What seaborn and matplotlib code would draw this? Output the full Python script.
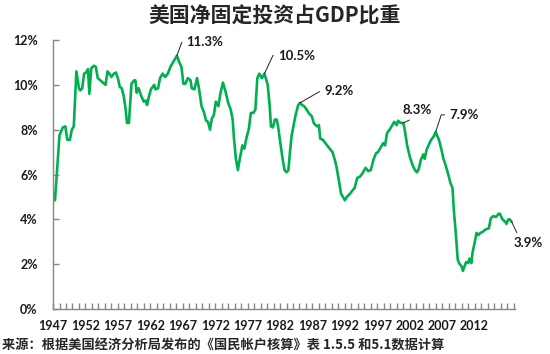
import matplotlib
matplotlib.use("Agg")
import matplotlib.pyplot as plt
import seaborn as sns
import numpy as np
import pandas as pd
from matplotlib.ticker import FixedLocator, MultipleLocator


# ==========================================
# DATA
# ==========================================

years = [
    1947.05, 1947.3, 1948.0, 1948.5, 1948.9, 1949.2, 1949.6, 1949.9, 1950.2, 1950.6,
    1951.0, 1951.2, 1951.5, 1951.8, 1952.1, 1952.4, 1952.6, 1952.9, 1953.3, 1953.6,
    1953.9, 1954.3, 1954.7, 1955.1, 1955.4, 1955.7, 1956.0, 1956.4, 1956.7, 1957.0,
    1957.3, 1957.6, 1957.9, 1958.2, 1958.4, 1958.7, 1959.1, 1959.5, 1959.7, 1959.9,
    1960.2, 1960.6, 1961.0, 1961.3, 1961.5, 1961.8, 1962.1, 1962.6, 1962.8, 1963.2,
    1963.5, 1963.9, 1964.3, 1964.7, 1965.1, 1965.6, 1966.1, 1966.4, 1966.8, 1967.1,
    1967.4, 1967.8, 1968.2, 1968.4, 1968.8, 1969.2, 1969.5, 1969.9, 1970.3, 1970.6,
    1970.9, 1971.2, 1971.5, 1971.8, 1972.1, 1972.5, 1972.8, 1973.2, 1973.6, 1974.0,
    1974.4, 1974.7, 1974.9, 1975.2, 1975.5, 1975.8, 1976.2, 1976.5, 1976.8, 1977.2,
    1977.5, 1977.9, 1978.2, 1978.5, 1978.8, 1979.2, 1979.6, 1979.9, 1980.1, 1980.4,
    1980.6, 1980.9, 1981.2, 1981.5, 1981.7, 1982.1, 1982.4, 1982.7, 1983.0, 1983.3,
    1983.5, 1983.8, 1984.1, 1984.4, 1984.8, 1985.1, 1985.4, 1985.7, 1986.1, 1986.4,
    1986.9, 1987.2, 1987.5, 1987.7, 1988.0, 1988.2, 1988.6, 1989.0, 1989.4, 1989.8,
    1990.1, 1990.5, 1990.7, 1991.1, 1991.4, 1991.7, 1992.0, 1992.3, 1992.8, 1993.2,
    1993.5, 1993.9, 1994.3, 1994.7, 1995.2, 1995.6, 1996.0, 1996.4, 1996.8, 1997.1,
    1997.6, 1997.9, 1998.2, 1998.5, 1998.9, 1999.3, 1999.6, 2000.0, 2000.2, 2000.6,
    2001.0, 2001.2, 2001.6, 2002.0, 2002.4, 2002.8, 2003.1, 2003.4, 2003.7, 2004.1,
    2004.3, 2004.6, 2004.9, 2005.3, 2005.7, 2006.0, 2006.2, 2006.5, 2006.9, 2007.2,
    2007.5, 2007.9, 2008.3, 2008.6, 2008.8, 2009.1, 2009.4, 2009.6, 2010.0, 2010.2,
    2010.5, 2010.7, 2011.0, 2011.2, 2011.5, 2011.7, 2012.0, 2012.3, 2012.6, 2012.9,
    2013.3, 2013.7, 2014.2, 2014.5, 2014.9, 2015.3, 2015.7, 2015.9, 2016.3, 2016.7,
    2016.9, 2017.2, 2017.4, 2017.7,
]

share = [
    5.15, 4.85, 7.75, 8.1, 8.15, 7.55, 7.55, 8.0, 8.15, 10.6,
    9.85, 9.75, 9.85, 10.5, 10.55, 10.7, 9.6, 10.75, 10.85, 10.8,
    10.3, 10.2, 10.1, 10.0, 10.6, 10.5, 10.35, 10.5, 10.55, 10.3,
    9.9, 9.85, 9.5, 8.9, 8.3, 8.3, 10.05, 10.2, 10.2, 9.65,
    9.85, 9.5, 9.25, 9.3, 9.1, 9.5, 9.8, 10.0, 9.8, 9.85,
    10.3, 10.5, 10.35, 10.5, 10.8, 11.05, 11.3, 11.05, 10.8, 10.05,
    10.05, 10.3, 10.2, 9.85, 9.8, 10.3, 9.85, 9.05, 8.75, 8.4,
    8.35, 8.0, 8.5, 8.65, 9.25, 9.05, 9.6, 10.1, 9.7, 9.2,
    8.9, 8.45, 7.6, 6.7, 6.2, 6.7, 7.3, 7.15, 7.6, 8.05,
    8.75, 8.75, 8.9, 10.3, 10.5, 10.3, 10.5, 10.2, 10.0, 9.1,
    8.15, 8.1, 8.45, 8.45, 8.15, 7.3, 6.7, 6.2, 6.1, 6.2,
    6.9, 7.75, 8.2, 8.65, 9.1, 9.2, 9.1, 9.05, 8.9, 8.75,
    8.6, 8.3, 8.2, 8.15, 8.2, 7.6, 7.55, 7.4, 7.25, 7.1,
    7.0, 6.6, 6.35, 5.7, 5.15, 5.0, 4.85, 5.0, 5.15, 5.3,
    5.4, 5.85, 5.9, 6.05, 6.3, 6.15, 6.2, 6.65, 6.95, 7.0,
    7.25, 7.4, 7.3, 7.85, 8.0, 8.2, 8.35, 8.2, 8.4, 8.3,
    8.3, 8.05, 7.3, 6.8, 6.45, 6.2, 6.1, 6.25, 6.65, 6.9,
    6.7, 7.1, 7.3, 7.55, 7.7, 7.9, 7.75, 7.55, 7.1, 6.7,
    6.45, 6.05, 5.6, 5.4, 4.4, 3.4, 2.2, 2.05, 1.9, 1.7,
    1.95, 2.1, 2.05, 2.25, 2.05, 2.55, 2.95, 3.4, 3.3, 3.4,
    3.45, 3.55, 3.6, 4.05, 4.15, 4.1, 4.25, 4.25, 4.0, 3.9,
    3.8, 4.0, 4.0, 3.9,
]

# labelled points: year, value, label text
peak_years = [1966.1, 1979.6, 1985.1, 2001.0, 2006.0, 2017.7]
peak_values = [11.3, 10.5, 9.2, 8.3, 7.9, 3.9]
peak_labels = ["11.3%", "10.5%", "9.2%", "8.3%", "7.9%", "3.9%"]

year_ticks = list(range(1947, 2013, 5))
pct_ticks = [0, 2, 4, 6, 8, 10, 12]

title = "美国净固定投资占GDP比重"
source = "来源：根据美国经济分析局发布的《国民帐户核算》表 1.5.5 和5.1数据计算"


# ==========================================
# PLOT
# ==========================================

sns.set_theme(style="white")
plt.rcParams['font.family'] = ['Noto Sans CJK SC', 'DejaVu Sans']

df = pd.DataFrame({'year': years, 'share': share})

fig = plt.figure(figsize=(5.5, 3.54), dpi=100)
ax = fig.add_axes([0.0964, 0.127, 0.8396, 0.76])

sns.lineplot(data=df, x='year', y='share', color='#00B050', linewidth=1.9, ax=ax)

ax.set_xlim(1947, 2018.2)
ax.set_ylim(0, 12)
ax.set_xlabel('')
ax.set_ylabel('')

# axes look: only left and bottom grey spines, ticks pointing inward
for side in ['top', 'right']:
    ax.spines[side].set_visible(False)
for side in ['left', 'bottom']:
    ax.spines[side].set_color('#868686')
    ax.spines[side].set_linewidth(1.0)

ax.xaxis.set_major_locator(FixedLocator(year_ticks))
ax.xaxis.set_minor_locator(MultipleLocator(1))
ax.set_xticklabels([str(y) for y in year_ticks])
ax.set_yticks(pct_ticks)
ax.set_yticklabels([f"{p}%" for p in pct_ticks])

ax.tick_params(axis='both', which='both', direction='in', color='#868686',
               width=1.0, length=4, bottom=True, left=True)
ax.tick_params(axis='x', which='major', pad=8)
ax.tick_params(axis='y', which='major', pad=11)
for lbl in ax.get_xticklabels() + ax.get_yticklabels():
    lbl.set_fontfamily('Lato')
    lbl.set_fontweight('bold')
    lbl.set_fontsize(9)
    lbl.set_color('#1a1a1a')

# peak annotations with leader lines
label_pos = [(1967.6, 11.9), (1981.7, 11.3), (1988.8, 9.73), (2003.2, 8.6), (2008.1, 8.66), (2020.2, 3.2)]
label_align = [('left', 'center'), ('left', 'center'), ('left', 'center'),
               ('center', 'bottom'), ('left', 'center'), ('center', 'top')]
conn = ["angle,angleA=0,angleB=70,rad=0", "angle,angleA=0,angleB=65,rad=0",
        "angle,angleA=0,angleB=30,rad=0", "arc3,rad=0",
        "angle,angleA=0,angleB=72,rad=0", "arc3,rad=0"]
rel = [(0, 0.5), (0, 0.5), (0, 0.5), (0.5, 0), (0, 0.5), (0.2, 1)]

for i in range(len(peak_labels)):
    ha, va = label_align[i]
    ax.annotate(peak_labels[i], xy=(peak_years[i], peak_values[i]), xytext=label_pos[i],
                ha=ha, va=va, fontsize=9.5, fontfamily='Lato', fontweight='bold',
                color='#1a1a1a', annotation_clip=False,
                arrowprops=dict(arrowstyle='-', color='#222222', lw=0.7,
                                connectionstyle=conn[i], relpos=rel[i],
                                shrinkA=1, shrinkB=0))

fig.text(0.5, 0.955, title, ha='center', va='center', fontsize=15, fontweight='bold',
         family=['Noto Sans CJK SC', 'DejaVu Sans'])
fig.text(0.004, 0.025, source, ha='left', va='center', fontsize=9.5, fontweight='bold',
         family=['Noto Sans CJK SC', 'DejaVu Sans'])

fig.savefig('out.png', dpi=100)
